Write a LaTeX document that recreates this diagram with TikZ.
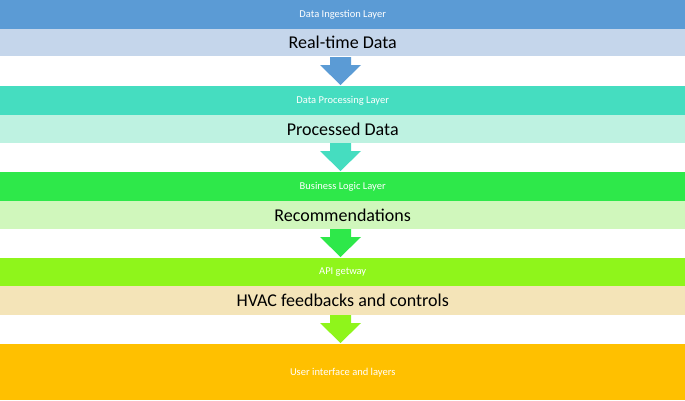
\documentclass[tikz,border=0pt]{standalone}
\usepackage{fontspec}
\setmainfont{Carlito}
\begin{document}
\begin{tikzpicture}[x=1pt,y=-1pt,
 layer/.style={anchor=north west,inner sep=0,minimum width=685pt,text=white,font=\fontsize{10.5}{12}\selectfont},
 data/.style={anchor=north west,inner sep=0,minimum width=685pt,text=black,font=\fontsize{18}{20}\selectfont}]
\definecolor{c1}{HTML}{5B9BD5}\definecolor{d1}{HTML}{C5D6EB}
\definecolor{c2}{HTML}{45DDC0}\definecolor{d2}{HTML}{BEF2E1}
\definecolor{c3}{HTML}{2EE84A}\definecolor{d3}{HTML}{D0F7BC}
\definecolor{c4}{HTML}{8FF51B}\definecolor{d4}{HTML}{F4E4B8}
\definecolor{c5}{HTML}{FFC000}
\useasboundingbox (0,0) rectangle (685,400);
\newcommand{\arr}[2]{\fill[#1] (330,#2) -- (351,#2) -- (351,#2+8) -- (361,#2+8) -- (340.5,#2+28) -- (320,#2+8) -- (330,#2+8) -- cycle;}
\node[layer,fill=c1,minimum height=29pt] (l1) at (0,0) {Data Ingestion Layer};
\node[data,fill=d1,minimum height=27pt] (d1) at (0,29) {Real-time Data};
\arr{c1}{57}
\node[layer,fill=c2,minimum height=29pt] (l2) at (0,86) {Data Processing Layer};
\node[data,fill=d2,minimum height=28pt] (d2) at (0,115) {Processed Data};
\arr{c2}{143}
\node[layer,fill=c3,minimum height=29pt] (l3) at (0,172) {Business Logic Layer};
\node[data,fill=d3,minimum height=28pt] (d3) at (0,201) {Recommendations};
\arr{c3}{229}
\node[layer,fill=c4,minimum height=28pt] (l4) at (0,258) {API getway};
\node[data,fill=d4,minimum height=29pt] (d4) at (0,286) {HVAC feedbacks and controls};
\arr{c4}{315}
\node[layer,fill=c5,minimum height=56pt] (l5) at (0,344) {User interface and layers};
\end{tikzpicture}
\end{document}
